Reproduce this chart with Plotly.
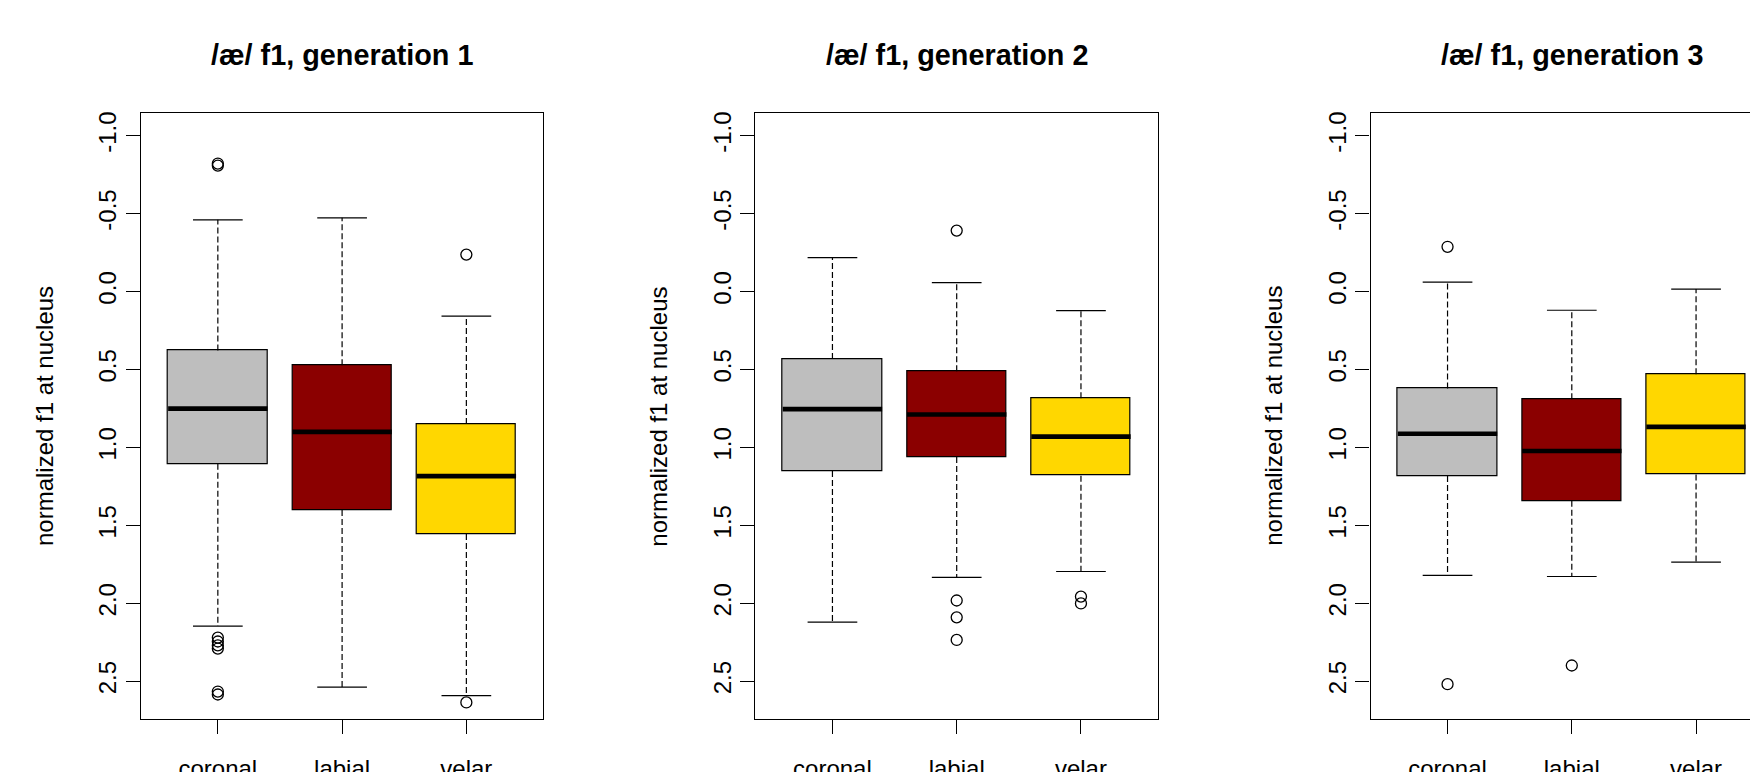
import plotly.graph_objects as go

# ---------------- data ----------------
categories = ["coronal", "labial", "velar"]
titles = ["/æ/ f1, generation 1", "/æ/ f1, generation 2", "/æ/ f1, generation 3"]
box_colors = ["#BEBEBE", "#8B0000", "#FFD700"]

y_tick_vals = [-1.0, -0.5, 0.0, 0.5, 1.0, 1.5, 2.0, 2.5]
y_tick_text = ["-1.0", "-0.5", "0.0", "0.5", "1.0", "1.5", "2.0", "2.5"]

# generation 1 (coronal, labial, velar)
g1_whisk_lo = [-0.460, -0.473, 0.158]
g1_q1 = [0.379, 0.473, 0.849]
g1_med = [0.751, 0.900, 1.184]
g1_q3 = [1.105, 1.402, 1.556]
g1_whisk_hi = [2.146, 2.538, 2.592]
g1_outliers = [[-0.821, -0.808, 2.22, 2.245, 2.27, 2.29, 2.566, 2.585], [], [-0.237, 2.636]]

# generation 2
g2_whisk_lo = [-0.218, -0.057, 0.123]
g2_q1 = [0.432, 0.511, 0.685]
g2_med = [0.754, 0.789, 0.931]
g2_q3 = [1.152, 1.061, 1.181]
g2_whisk_hi = [2.121, 1.834, 1.796]
g2_outliers = [[], [-0.391, 1.982, 2.090, 2.235], [1.957, 2.001]]

# generation 3
g3_whisk_lo = [-0.060, 0.120, -0.016]
g3_q1 = [0.622, 0.691, 0.530]
g3_med = [0.912, 1.023, 0.868]
g3_q3 = [1.184, 1.342, 1.174]
g3_whisk_hi = [1.821, 1.828, 1.736]
g3_outliers = [[-0.287, 2.519], [2.399], []]

generations = [
    (g1_whisk_lo, g1_q1, g1_med, g1_q3, g1_whisk_hi, g1_outliers),
    (g2_whisk_lo, g2_q1, g2_med, g2_q3, g2_whisk_hi, g2_outliers),
    (g3_whisk_lo, g3_q1, g3_med, g3_q3, g3_whisk_hi, g3_outliers),
]

# ---------------- layout geometry ----------------
W, H = 1750, 772
FONT = "Liberation Sans, Arial, Helvetica, sans-serif"
panel_left_px = [140.8, 755.4, 1370.5]
panel_w_px = 402.6
plot_top_px, plot_bot_px = 113.2, 719.3
x_full_range = [0.38, 3.62]
y_range = [2.744, -1.144]
box_w = 0.8
cap_w = 0.4

fig = go.Figure()
annotations = []

for i, (wlo, q1, med, q3, whi, outl) in enumerate(generations):
    xa = "x" if i == 0 else f"x{i+1}"
    ya = "y" if i == 0 else f"y{i+1}"
    xpos = [j + 1 for j in range(len(categories))]

    # whiskers (dashed)
    wx, wy = [], []
    for j, x in enumerate(xpos):
        wx += [x, x, None, x, x, None]
        wy += [q1[j], wlo[j], None, q3[j], whi[j], None]
    fig.add_trace(go.Scatter(x=wx, y=wy, mode="lines", xaxis=xa, yaxis=ya,
                             line=dict(color="black", width=1.2, dash="6px,3px"),
                             showlegend=False, hoverinfo="skip"))
    # caps
    cx, cy = [], []
    for j, x in enumerate(xpos):
        cx += [x - cap_w / 2, x + cap_w / 2, None, x - cap_w / 2, x + cap_w / 2, None]
        cy += [wlo[j], wlo[j], None, whi[j], whi[j], None]
    fig.add_trace(go.Scatter(x=cx, y=cy, mode="lines", xaxis=xa, yaxis=ya,
                             line=dict(color="black", width=1.2),
                             showlegend=False, hoverinfo="skip"))
    # boxes
    fig.add_trace(go.Bar(x=xpos, y=[q3[j] - q1[j] for j in range(len(xpos))], base=q1,
                         width=box_w, xaxis=xa, yaxis=ya,
                         marker=dict(color=box_colors, line=dict(color="black", width=1.2)),
                         showlegend=False, hoverinfo="skip"))
    # medians
    mx, my = [], []
    for j, x in enumerate(xpos):
        mx += [x - box_w / 2, x + box_w / 2, None]
        my += [med[j], med[j], None]
    fig.add_trace(go.Scatter(x=mx, y=my, mode="lines", xaxis=xa, yaxis=ya,
                             line=dict(color="black", width=4.6),
                             showlegend=False, hoverinfo="skip"))
    # outliers
    ox, oy = [], []
    for j, x in enumerate(xpos):
        for v in outl[j]:
            ox.append(x)
            oy.append(v)
    fig.add_trace(go.Scatter(x=ox, y=oy, mode="markers", xaxis=xa, yaxis=ya,
                             marker=dict(symbol="circle-open", size=11,
                                         color="black", line=dict(width=1.3)),
                             showlegend=False, hoverinfo="skip"))

    # axes
    left = panel_left_px[i]
    right = left + panel_w_px
    if right > W:
        frac = (W - left) / panel_w_px
        xr = [x_full_range[0], x_full_range[0] + (x_full_range[1] - x_full_range[0]) * frac]
        dom_x = [left / W, 1.0]
        y_mirror = False
    else:
        xr = x_full_range
        dom_x = [left / W, right / W]
        y_mirror = True
    dom_y = [1 - plot_bot_px / H, 1 - plot_top_px / H]

    xkey = "xaxis" if i == 0 else f"xaxis{i+1}"
    ykey = "yaxis" if i == 0 else f"yaxis{i+1}"
    fig.update_layout(**{
        xkey: dict(domain=dom_x, range=xr, anchor=ya, tickmode="array",
                   tickvals=xpos, ticktext=categories, showgrid=False, zeroline=False,
                   showline=True, mirror=True, linecolor="black", linewidth=1.3,
                   ticks="outside", ticklen=14, tickwidth=1.3, tickcolor="black",
                   ticklabelstandoff=14,
                   tickfont=dict(family=FONT, size=24, color="black"), automargin=False),
        ykey: dict(domain=dom_y, range=y_range, anchor=xa, tickmode="array",
                   tickvals=y_tick_vals, ticktext=y_tick_text, tickangle=-90,
                   showgrid=False, zeroline=False,
                   showline=True, mirror=y_mirror, linecolor="black", linewidth=1.3,
                   ticks="outside", ticklen=14, tickwidth=1.3, tickcolor="black",
                   tickfont=dict(family=FONT, size=24, color="black"), automargin=False),
    })

    # title
    annotations.append(dict(text=f"<b>{titles[i]}</b>", xref="paper", yref="paper",
                            x=(left + panel_w_px / 2) / W, y=1 - 54.5 / H,
                            xanchor="center", yanchor="middle", showarrow=False,
                            font=dict(family=FONT, size=28.8, color="black")))
    # y axis title
    annotations.append(dict(text="normalized f1 at nucleus", xref="paper", yref="paper",
                            x=(left - 97) / W, y=1 - ((plot_top_px + plot_bot_px) / 2) / H,
                            xanchor="center", yanchor="middle", textangle=-90, showarrow=False,
                            font=dict(family=FONT, size=24, color="black")))

fig.update_layout(width=W, height=H, margin=dict(l=0, r=0, t=0, b=0),
                  paper_bgcolor="white", plot_bgcolor="white",
                  barmode="overlay", bargap=0, annotations=annotations, showlegend=False)

fig.write_html("out.html")
